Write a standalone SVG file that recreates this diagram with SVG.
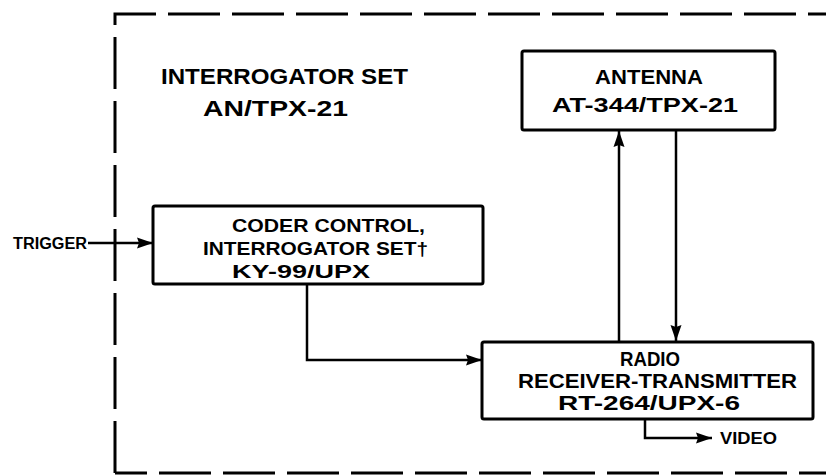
<svg xmlns="http://www.w3.org/2000/svg" width="826" height="476" viewBox="0 0 826 476">
<defs>
<style>
text{font-family:"Liberation Sans",Arial,sans-serif;font-weight:bold;fill:#000}
.t{font-size:22px}
.b{font-size:21px}
.c{font-size:19px}
.s{font-size:16px}
.box{fill:none;stroke:#000;stroke-width:3}
.ln{fill:none;stroke:#000;stroke-width:2.5}
.dash{fill:none;stroke:#000;stroke-width:3;stroke-dasharray:52 12}
</style>
<marker id="ah" viewBox="0 0 16 12" refX="16" refY="6" markerWidth="16" markerHeight="12" markerUnits="userSpaceOnUse" orient="auto">
<path d="M0,0.5 L16,6 L0,11.5 L2,6 Z" fill="#000"/>
</marker>
</defs>
<rect width="826" height="476" fill="#fff"/>
<g id="boundary">
<path class="dash" d="M115,473 L115,14 L830,14"/>
<path class="dash" d="M115,473 L830,473" stroke-dashoffset="20"/>
</g>
<g id="title">
<text class="t" x="161" y="84" textLength="247" lengthAdjust="spacingAndGlyphs">INTERROGATOR SET</text>
<text class="t" x="203" y="116" textLength="145" lengthAdjust="spacingAndGlyphs">AN/TPX-21</text>
</g>
<g id="antenna">
<rect class="box" x="522" y="51" width="253" height="79" rx="2"/>
<text class="b" x="595" y="84" textLength="108" lengthAdjust="spacingAndGlyphs">ANTENNA</text>
<text class="b" x="552" y="112" textLength="186" lengthAdjust="spacingAndGlyphs">AT-344/TPX-21</text>
</g>
<g id="coder">
<rect class="box" x="153" y="206" width="330" height="78" rx="2"/>
<text class="c" x="232" y="232" textLength="193" lengthAdjust="spacingAndGlyphs">CODER CONTROL,</text>
<text class="c" x="203" y="255" textLength="225" lengthAdjust="spacingAndGlyphs">INTERROGATOR SET†</text>
<text class="c" x="232" y="278" textLength="138" lengthAdjust="spacingAndGlyphs">KY-99/UPX</text>
</g>
<g id="radio">
<rect class="box" x="482" y="342" width="331" height="77" rx="2"/>
<text class="b" x="620" y="366" textLength="60" lengthAdjust="spacingAndGlyphs">RADIO</text>
<text class="b" x="518" y="388" textLength="279" lengthAdjust="spacingAndGlyphs">RECEIVER-TRANSMITTER</text>
<text class="b" x="558" y="410" textLength="182" lengthAdjust="spacingAndGlyphs">RT-264/UPX-6</text>
</g>
<g id="trigger">
<text class="s" x="13" y="249" textLength="74" lengthAdjust="spacingAndGlyphs">TRIGGER</text>
</g>
<g id="video">
<text class="s" x="720" y="444" textLength="57" lengthAdjust="spacingAndGlyphs">VIDEO</text>
</g>
<g id="connectors">
<path class="ln" d="M88,243 L153,243" marker-end="url(#ah)"/>
<path class="ln" d="M307,284 L307,360 L482,360" marker-end="url(#ah)"/>
<path class="ln" d="M619,342 L619,131" marker-end="url(#ah)"/>
<path class="ln" d="M676,130 L676,341" marker-end="url(#ah)"/>
<path class="ln" d="M645,419 L645,438 L712,438" marker-end="url(#ah)"/>
</g>
</svg>
